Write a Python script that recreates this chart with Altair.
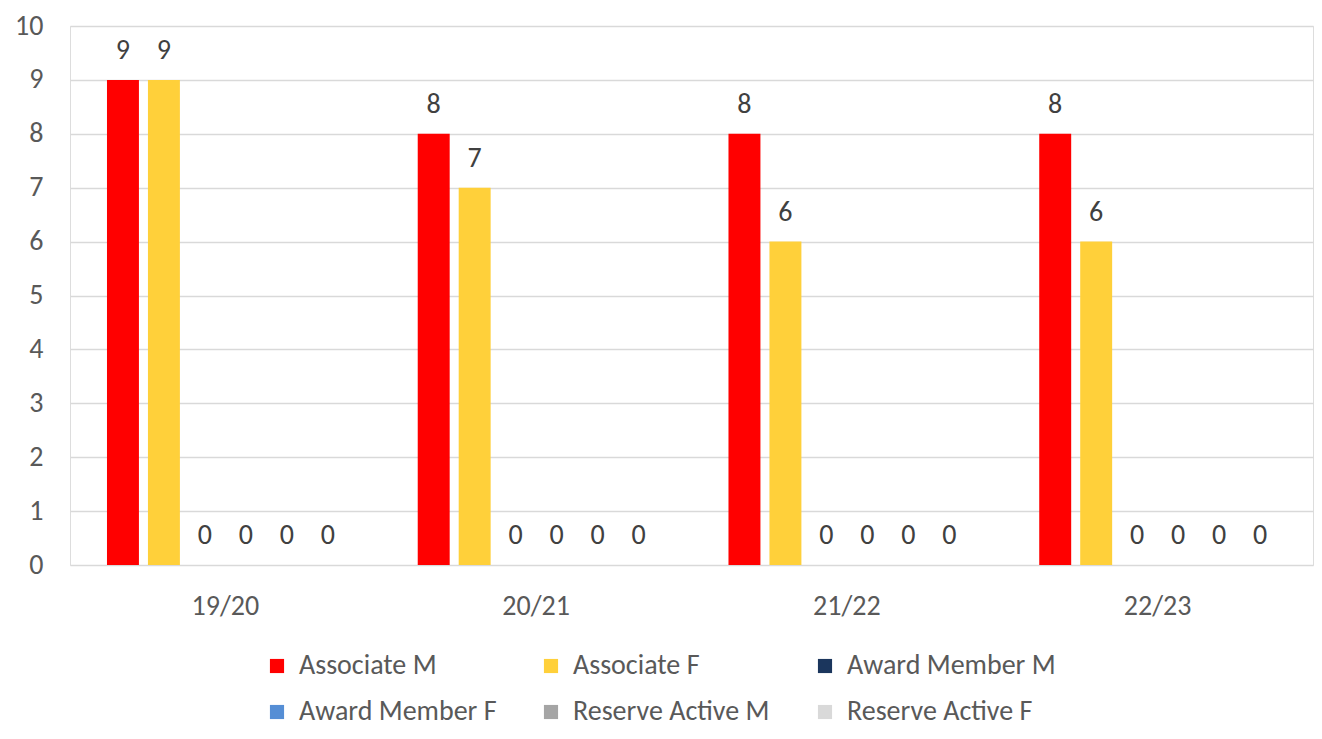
import altair as alt
import pandas as pd

seasons = ["19/20", "20/21", "21/22", "22/23"]
series = ["Associate M", "Associate F", "Award Member M",
          "Award Member F", "Reserve Active M", "Reserve Active F"]
colors = ["#FF0000", "#FFD03A", "#1B365D", "#558ED5", "#A5A5A5", "#D9D9D9"]
associate_m = [9, 8, 8, 8]
associate_f = [9, 7, 6, 6]
award_m = [0, 0, 0, 0]
award_f = [0, 0, 0, 0]
reserve_m = [0, 0, 0, 0]
reserve_f = [0, 0, 0, 0]
y_ticks = list(range(0, 11))

all_vals = [associate_m, associate_f, award_m, award_f, reserve_m, reserve_f]
rows = []
for s, vals in zip(series, all_vals):
    for season, v in zip(seasons, vals):
        rows.append({"season": season, "series": s, "value": v})
df = pd.DataFrame(rows)

FONT = "Carlito, Lato, sans-serif"
GREY = "#595959"
FS = 28

x = alt.X("season:N", sort=seasons, title=None,
          scale=alt.Scale(paddingInner=0.238, paddingOuter=0.119),
          axis=alt.Axis(labelAngle=0, ticks=False, domain=False, labelFontSize=FS,
                        labelColor=GREY, labelFont=FONT, labelPadding=27))
xo = alt.XOffset("series:N", sort=series, scale=alt.Scale(paddingInner=0.22, paddingOuter=0))
y = alt.Y("value:Q", title=None,
          scale=alt.Scale(domain=[0, 10], nice=False),
          axis=alt.Axis(values=y_ticks, ticks=False, domain=False, labelFontSize=FS,
                        labelColor=GREY, labelFont=FONT, labelPadding=27,
                        gridColor="#D9D9D9", gridWidth=1.5))

color = alt.Color("series:N", sort=series,
                  scale=alt.Scale(domain=series, range=colors),
                  legend=alt.Legend(title=None, orient="none", legendX=193, legendY=626,
                                    direction="horizontal",
                                    columns=3, symbolType="square", symbolSize=200,
                                    symbolStrokeWidth=0, labelFontSize=FS, labelColor=GREY,
                                    labelFont=FONT, labelOffset=8, rowPadding=18,
                                    columnPadding=29, gridAlign="all", labelLimit=400))

bars = alt.Chart(df).mark_bar().encode(x=x, xOffset=xo, y=y, color=color)
labels = alt.Chart(df).mark_text(baseline="middle", dy=-29, fontSize=FS,
                                 font=FONT, color="#404040").encode(
    x=x, xOffset=xo, y=y, text="value:Q")

chart = (bars + labels).properties(
    width=1243, height=539,
    autosize=alt.AutoSizeParams(type="none"),
    padding={"left": 62, "top": 18, "right": 1, "bottom": 166},
).configure_view(stroke=None).configure(background="white")

chart.save("out.html", embed_options={"renderer": "svg", "actions": False})
